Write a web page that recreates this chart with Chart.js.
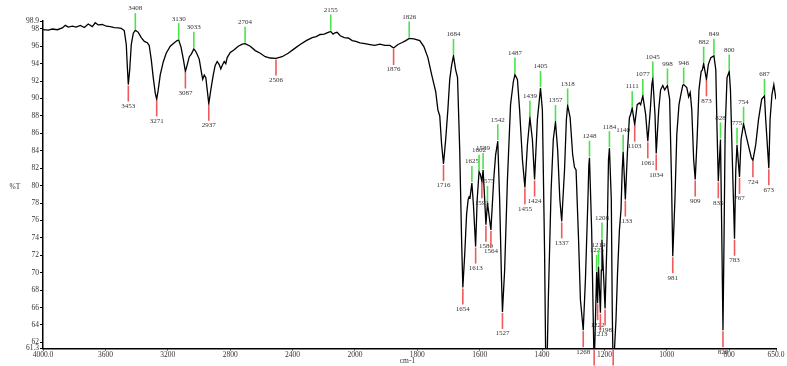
<!DOCTYPE html>
<html>
<head>
<meta charset="utf-8">
<script src="https://cdn.jsdelivr.net/npm/chart.js@4.4.0/dist/chart.umd.min.js"></script>
<style>
  body { margin: 0; background: #fff; }
  canvas { display: block; }
</style>
</head>
<body>
<canvas id="myChart" width="787" height="366"></canvas>
<script>
// spectrum: wavenumber (cm-1) and %T
const wavenumbers = [
  4000, 3966, 3940, 3908, 3876, 3857, 3838, 3812, 3787, 3761, 3735, 3710, 3684, 3665, 3646, 3620,
  3594, 3569, 3543, 3517, 3498, 3479, 3466, 3460, 3453, 3444, 3434, 3421, 3408, 3389, 3370, 3350,
  3331, 3319, 3306, 3293, 3280, 3271, 3262, 3248, 3229, 3210, 3184, 3158, 3140, 3130, 3115, 3100,
  3087, 3075, 3062, 3049, 3033, 3022, 3011, 2998, 2985, 2976, 2966, 2956, 2947, 2937, 2924, 2908,
  2896, 2883, 2870, 2860, 2851, 2838, 2828, 2819, 2799, 2774, 2748, 2722, 2704, 2671, 2639, 2607,
  2575, 2543, 2506, 2467, 2428, 2390, 2351, 2312, 2274, 2248, 2223, 2197, 2171, 2155, 2140, 2128,
  2114, 2094, 2068, 2043, 2017, 1997, 1984, 1968, 1952, 1936, 1920, 1904, 1888, 1876, 1862, 1850,
  1837, 1826, 1811, 1792, 1779, 1766, 1754, 1741, 1734, 1728, 1722, 1716, 1709, 1702, 1696, 1690,
  1684, 1677, 1671, 1664, 1658, 1654, 1648, 1642, 1637, 1634, 1631, 1625, 1620, 1613, 1608, 1602,
  1598, 1593, 1589, 1584, 1580, 1575, 1564, 1555, 1549, 1542, 1536, 1530, 1527, 1520, 1511, 1501,
  1498, 1492, 1487, 1479, 1472, 1463, 1455, 1447, 1439, 1431, 1424, 1415, 1405, 1399, 1392, 1388,
  1385, 1380, 1371, 1364, 1357, 1350, 1343, 1337, 1328, 1322, 1318, 1310, 1302, 1296, 1291, 1283,
  1277, 1268, 1261, 1253, 1250, 1248, 1241, 1233, 1225, 1222, 1219, 1213, 1210, 1208, 1198, 1191,
  1187, 1184, 1178, 1175, 1172, 1163, 1158, 1152, 1147, 1143, 1140, 1133, 1126, 1120, 1116, 1111,
  1103, 1095, 1088, 1084, 1077, 1068, 1061, 1053, 1048, 1045, 1038, 1034, 1026, 1020, 1013, 1007,
  998, 991, 985, 981, 974, 968, 961, 955, 949, 946, 936, 930, 925, 920, 914, 909,
  903, 897, 890, 886, 882, 873, 867, 859, 849, 843, 839, 835, 828, 824, 820, 817,
  813, 807, 800, 796, 790, 783, 779, 775, 767, 762, 754, 747, 737, 729, 724, 715,
  706, 696, 687, 683, 673, 669, 663, 657, 650
];
const transmittance = [
  97.9, 97.85, 97.98, 97.9, 98.1, 98.4, 98.2, 98.3, 98.2, 98.4, 98.15, 98.55, 98.25, 98.7, 98.45, 98.5,
  98.3, 98.25, 98.15, 98.1, 98.05, 97.8, 96.2, 93.9, 91.6, 93.3, 96.2, 97.5, 97.85, 97.6, 97.0, 96.55,
  96.4, 96.1, 94.5, 92.4, 90.6, 89.9, 90.9, 92.75, 94.2, 95.2, 96.0, 96.4, 96.65, 96.7, 95.9, 94.5,
  93.1, 93.9, 94.8, 95.1, 95.7, 95.45, 95.05, 94.5, 93.1, 92.2, 92.7, 92.4, 91.0, 89.4, 91.0, 92.75,
  93.8, 94.25, 93.9, 93.4, 93.8, 94.25, 94.0, 94.7, 95.3, 95.6, 96.0, 96.25, 96.3, 96.0, 95.5, 95.2,
  94.8, 94.65, 94.6, 94.8, 95.2, 95.7, 96.2, 96.65, 97.0, 97.1, 97.35, 97.4, 97.6, 97.7, 97.4, 97.55,
  97.6, 97.2, 97.0, 96.95, 96.65, 96.55, 96.4, 96.3, 96.2, 96.1, 96.25, 96.1, 96.1, 95.8, 96.2, 96.4,
  96.65, 96.9, 96.85, 96.65, 95.97, 94.7, 92.75, 90.8, 88.7, 88.0, 84.7, 82.5, 85.3, 88.7, 92.2, 93.8,
  94.9, 93.3, 92.4, 84.1, 73.8, 68.3, 72.1, 76.7, 78.4, 78.7, 78.6, 80.3, 77.8, 73.0, 78.4, 81.6,
  81.3, 80.5, 81.8, 78.4, 75.5, 78.0, 74.9, 80.7, 83.5, 85.1, 78.4, 69.2, 65.5, 70.3, 80.7, 89.3,
  90.2, 91.95, 92.75, 92.2, 88.7, 83.0, 79.8, 84.7, 87.8, 85.3, 80.7, 87.6, 91.2, 88.7, 72.6, 58.9,
  57.7, 66.9, 79.5, 85.3, 87.3, 84.1, 78.4, 75.9, 81.8, 87.6, 89.2, 87.8, 83.6, 82.1, 81.8, 73.8,
  66.9, 63.4, 69.2, 78.4, 82.4, 83.2, 74.9, 58.9, 70.1, 66.5, 70.7, 65.4, 70.3, 73.8, 65.9, 74.9,
  83.0, 84.3, 78.4, 65.8, 58.3, 64.6, 70.0, 74.9, 77.2, 81.8, 83.9, 78.4, 84.1, 87.8, 88.2, 88.9,
  87.0, 89.3, 89.5, 89.3, 90.3, 88.2, 85.1, 88.7, 91.6, 92.3, 88.2, 83.7, 88.7, 91.0, 91.5, 91.0,
  91.5, 89.9, 80.7, 71.9, 78.4, 85.9, 89.3, 90.45, 91.5, 91.6, 91.25, 90.2, 90.7, 88.7, 83.0, 80.7,
  85.3, 91.0, 93.1, 93.3, 94.0, 92.2, 93.9, 94.7, 94.9, 93.3, 86.4, 80.5, 85.3, 74.9, 63.4, 72.6,
  86.4, 92.4, 93.1, 91.0, 83.0, 73.9, 81.8, 84.7, 81.0, 85.3, 87.1, 85.9, 84.4, 83.2, 82.9, 84.7,
  87.6, 89.9, 90.3, 87.6, 82.0, 87.6, 90.45, 91.6, 89.9
];

// labelled peaks (maxima get green markers, minima red)
const maxPeaks = [3408, 3130, 3033, 2704, 2155, 1826, 1684, 1625, 1602, 1589, 1575, 1542, 1487, 1439, 1405,
  1357, 1318, 1248, 1225, 1219, 1208, 1184, 1140, 1111, 1077, 1045, 998, 946, 882, 849, 828, 800, 775, 754, 687];
const minPeaks = [3453, 3271, 3087, 2937, 2506, 1876, 1716, 1654, 1613, 1593, 1580, 1564, 1527, 1455, 1424,
  1337, 1268, 1233, 1222, 1213, 1198, 1172, 1133, 1103, 1061, 1034, 981, 909, 873, 835, 820, 783, 767, 724, 673];

const xTickValues = [4000, 3600, 3200, 2800, 2400, 2000, 1800, 1600, 1400, 1200, 1000, 800, 650];
const xTickLabels = ['4000.0', '3600', '3200', '2800', '2400', '2000', '1800', '1600', '1400', '1200', '1000', '800', '650.0'];
const yTickValues = [61.3, 62, 64, 66, 68, 70, 72, 74, 76, 78, 80, 82, 84, 86, 88, 90, 92, 94, 96, 98, 98.9];

// the instrument doubles the scale below 2000 cm-1
function axisPos(w) {
  return w >= 2000 ? 4000 - w : 2000 + 2 * (2000 - w);
}

const points = wavenumbers.map((w, i) => ({ x: axisPos(w), y: transmittance[i] }));
const lookup = {};
wavenumbers.forEach((w, i) => { lookup[w] = transmittance[i]; });

const serif = '"Liberation Serif", "DejaVu Serif", serif';

const peakMarks = {
  id: 'peakMarks',
  afterDatasetsDraw(chart) {
    const ctx = chart.ctx;
    const xs = chart.scales.x, ys = chart.scales.y;
    const area = chart.chartArea;
    ctx.save();
    ctx.font = '7px ' + serif;
    ctx.textAlign = 'center';
    ctx.lineWidth = 1.6;
    maxPeaks.forEach(w => {
      const x = xs.getPixelForValue(axisPos(w));
      const y = Math.max(ys.getPixelForValue(lookup[w]), area.top);
      ctx.strokeStyle = '#4be34b';
      ctx.beginPath(); ctx.moveTo(x, y - 1); ctx.lineTo(x, y - 17); ctx.stroke();
      ctx.fillStyle = '#333';
      ctx.textBaseline = 'bottom';
      ctx.fillText(String(w), x, y - 18);
    });
    minPeaks.forEach(w => {
      const x = xs.getPixelForValue(axisPos(w));
      const y = Math.min(ys.getPixelForValue(lookup[w]), area.bottom);
      ctx.strokeStyle = '#f05a5a';
      ctx.beginPath(); ctx.moveTo(x, y + 1); ctx.lineTo(x, y + 17); ctx.stroke();
      ctx.fillStyle = '#333';
      ctx.textBaseline = 'top';
      ctx.fillText(String(w), x, y + 18);
    });
    // axis titles
    ctx.font = '7.5px ' + serif;
    ctx.textBaseline = 'middle';
    ctx.fillText('%T', 15, (area.top + area.bottom) / 2 + 2);
    ctx.fillText('cm-1', (area.left + area.right) / 2 - 2, 361);
    ctx.restore();
  }
};

new Chart('myChart', {
  type: 'line',
  data: {
    datasets: [{
      data: points,
      borderColor: '#000',
      borderWidth: 1.3,
      pointRadius: 0,
      tension: 0,
      fill: false
    }]
  },
  options: {
    responsive: false,
    animation: false,
    devicePixelRatio: 1,
    layout: { padding: { left: 0, right: 11, top: 21, bottom: 0 } },
    plugins: { legend: { display: false }, tooltip: { enabled: false } },
    scales: {
      x: {
        type: 'linear',
        min: 0,
        max: axisPos(650),
        afterBuildTicks: scale => { scale.ticks = xTickValues.map(w => ({ value: axisPos(w) })); },
        afterFit: scale => { scale.height = 17.5; },
        ticks: {
          autoSkip: false,
          maxRotation: 0,
          padding: 0,
          color: '#333',
          font: { family: serif, size: 7.5 },
          callback: (value, index) => xTickLabels[index]
        },
        grid: { drawOnChartArea: false, drawTicks: true, tickLength: 2, color: '#000' },
        border: { display: true, color: '#000', width: 1.5 }
      },
      y: {
        min: 61.3,
        max: 98.9,
        afterBuildTicks: scale => { scale.ticks = yTickValues.map(v => ({ value: v })); },
        afterFit: scale => { scale.width = 43; },
        ticks: {
          autoSkip: false,
          padding: 1,
          color: '#333',
          font: { family: serif, size: 7.5 },
          callback: value => String(value)
        },
        grid: { drawOnChartArea: false, drawTicks: true, tickLength: 3, color: '#000' },
        border: { display: true, color: '#000', width: 1.5 }
      }
    }
  },
  plugins: [peakMarks]
});
</script>
</body>
</html>
